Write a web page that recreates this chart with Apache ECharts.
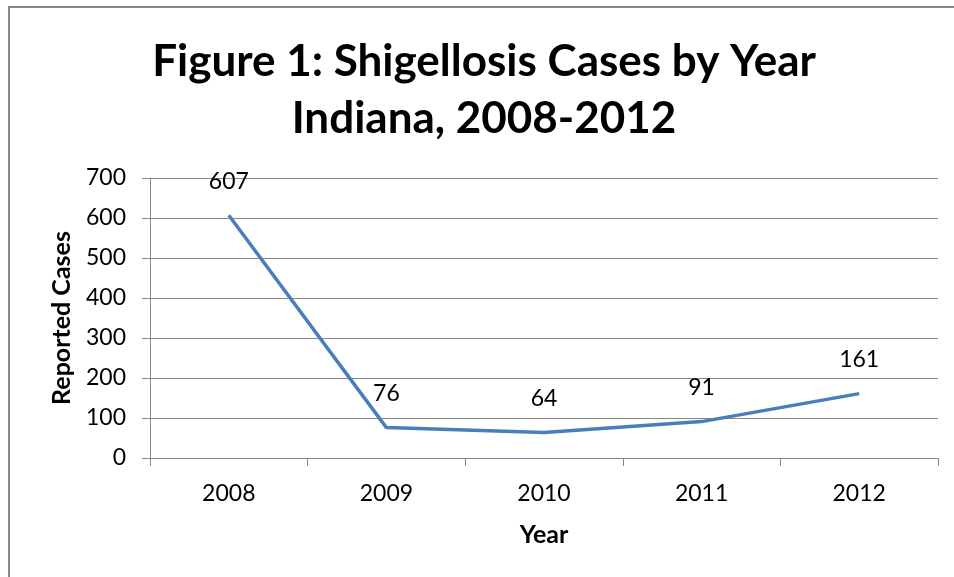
<!DOCTYPE html>
<html><head><meta charset="utf-8">
<script src="https://cdn.jsdelivr.net/npm/echarts@6/dist/echarts.min.js"></script>
<style>html,body{margin:0;padding:0;background:#fff}#c{width:954px;height:577px}</style>
</head><body><div id="c"></div>
<script>
const years = ['2008','2009','2010','2011','2012'];
const cases = [607, 76, 64, 91, 161];
const yTicks = [0, 100, 200, 300, 400, 500, 600, 700];

const chart = echarts.init(document.getElementById('c'), null, {renderer:'canvas'});
const FONT = 'Lato, "Open Sans", sans-serif';
chart.setOption({
  animation: false,
  backgroundColor: '#fff',
  graphic: [{
    type: 'rect', shape: {x: 9, y: 7, width: 1000, height: 700},
    style: {fill: 'none', stroke: '#888', lineWidth: 2}, silent: true
  }],
  title: {
    text: 'Figure 1: Shigellosis Cases by Year\nIndiana, 2008-2012',
    left: 479, top: 28, textAlign: 'center',
    textStyle: {fontFamily: FONT, fontWeight: 'bold', fontSize: 44, lineHeight: 57, color: '#000'}
  },
  grid: {left: 150, right: 16, top: 178, bottom: 119, containLabel: false},
  xAxis: {
    type: 'category', data: years, boundaryGap: true,
    name: 'Year', nameLocation: 'middle', nameGap: 64,
    nameTextStyle: {fontFamily: FONT, fontWeight: 'bold', fontSize: 25, color: '#000'},
    axisLine: {lineStyle: {color: '#888', width: 1}},
    axisTick: {show: true, length: 8, lineStyle: {color: '#888'}},
    axisLabel: {fontFamily: FONT, fontSize: 23, color: '#000', margin: 24}
  },
  yAxis: {
    type: 'value', min: yTicks[0], max: yTicks[yTicks.length-1], interval: 100,
    name: 'Reported Cases', nameLocation: 'middle', nameGap: 76, nameRotate: 90,
    nameTextStyle: {fontFamily: FONT, fontWeight: 'bold', fontSize: 25, color: '#000'},
    axisLine: {show: true, lineStyle: {color: '#888', width: 1}},
    axisTick: {show: true, length: 8, lineStyle: {color: '#888'}},
    splitLine: {show: true, lineStyle: {color: '#888', width: 1}},
    axisLabel: {fontFamily: FONT, fontSize: 23, color: '#000', margin: 24}
  },
  series: [{
    type: 'line', data: cases, symbol: 'circle', symbolSize: 1, showSymbol: true,
    itemStyle: {color: 'rgba(0,0,0,0)'},
    lineStyle: {color: '#4a7ebb', width: 3.5},
    label: {show: true, position: 'top', distance: 22, fontFamily: FONT, fontSize: 23, color: '#000'}
  }]
});
</script></body></html>
